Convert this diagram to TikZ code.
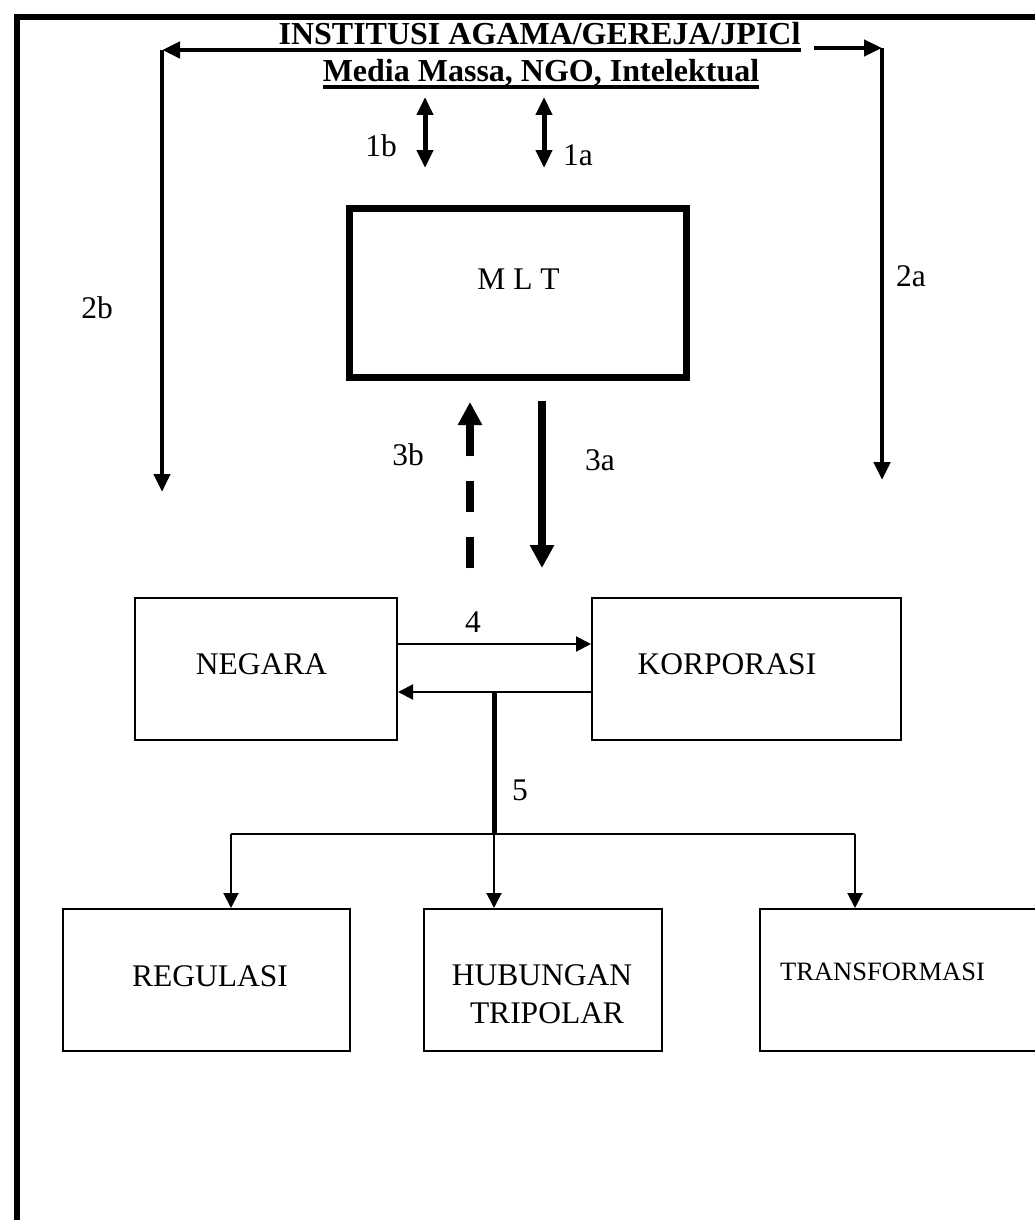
\documentclass[tikz,border=0pt]{standalone}
\usepackage{fontspec}
\setmainfont{Liberation Serif}
\usetikzlibrary{arrows.meta}
\begin{document}
\begin{tikzpicture}[x=1pt,y=-1pt,
  txt/.style={inner sep=0pt, anchor=base, font=\fontsize{31.5}{38}\selectfont},
  ttl/.style={inner sep=0pt, anchor=base, font=\fontsize{32}{38}\selectfont\bfseries},
  box/.style={draw, line width=2pt, inner sep=0pt},
  thinarrow/.style={line width=2pt, -{Triangle[length=15pt,width=15pt]}},
  thickarrow/.style={line width=4.5pt, -{Triangle[length=18pt,width=16pt]}},
  dblarrow/.style={line width=5pt, {Triangle[length=18pt,width=16pt]}-{Triangle[length=18pt,width=16pt]}},
  bigarrow/.style={line width=7.5pt, -{Triangle[length=23pt,width=23pt]}}
]
\useasboundingbox (0,0) rectangle (1034,1220);
% outer frame
\draw[line width=6pt] (17,1230) -- (17,17) -- (1040,17);

% title
\node[ttl] (t1) at (539.5,45) {INSTITUSI AGAMA/GEREJA/JPICl};
\node[ttl] (t2) at (541,82) {Media Massa, NGO, Intelektual};
\draw[line width=3.5pt] ([yshift=-5pt]t1.base west) -- ([yshift=-5pt]t1.base east);
\draw[line width=3.5pt] ([yshift=-5pt]t2.base west) -- ([yshift=-5pt]t2.base east);

% side connectors
\coordinate (lt) at (162,50);
\coordinate (lb) at (162,492);
\coordinate (rt) at (882,48);
\coordinate (rb) at (882,480);
\draw[thickarrow] ([yshift=-5pt]t1.base west) -- (lt);
\draw[thickarrow] ([xshift=13pt,yshift=-3pt]t1.base east) -- (rt);
\draw[thickarrow] (lt) -- (lb);
\draw[thickarrow] (rt) -- (rb);

% boxes
\node[box, line width=7pt, minimum width=337pt, minimum height=169pt] (mlt) at (518,293) {};
\node[box, minimum width=262pt, minimum height=142pt] (neg) at (266,669) {};
\node[box, minimum width=309pt, minimum height=142pt] (kor) at (746.5,669) {};
\node[box, minimum width=287pt, minimum height=142pt] (reg) at (206.5,980) {};
\node[box, minimum width=238pt, minimum height=142pt] (hub) at (543,980) {};
\node[box, minimum width=290pt, minimum height=142pt] (tra) at (905,980) {};

% box texts
\node[txt] (mltt) at (518.5,289) {M L T};
\node[txt] (negt) at (261.5,674) {NEGARA};
\node[txt] (kort) at (727,674) {KORPORASI};
\node[txt] (regt) at (210,986) {REGULASI};
\node[txt] (hubt1) at (542,985) {HUBUNGAN};
\node[txt] (hubt2) at (547,1023) {TRIPOLAR};
\node[txt, font=\fontsize{26.5}{32}\selectfont] (trat) at (882.5,980) {TRANSFORMASI};

% labels
\node[txt] (l1b) at (381,157) {1b};
\node[txt] (l1a) at (578,165) {1a};
\node[txt] (l2b) at (97,318) {2b};
\node[txt] (l2a) at (911,286) {2a};
\node[txt] (l3b) at (408,465) {3b};
\node[txt] (l3a) at (600,470) {3a};
\node[txt] (l4) at (473,632) {4};
\node[txt] (l5) at (520,800) {5};

% 1a / 1b
\coordinate (b1t) at (425,97);
\coordinate (b1b) at (425,168);
\coordinate (a1t) at (544,97);
\coordinate (a1b) at (544,168);
\draw[dblarrow] (b1t) -- (b1b);
\draw[dblarrow] (a1t) -- (a1b);

% 3a / 3b
\coordinate (b3s) at (470,568);
\coordinate (b3e) at (470,402);
\coordinate (a3s) at (542,401);
\coordinate (a3e) at (542,568);
\draw[bigarrow, dash pattern=on 31pt off 25pt] (b3s) -- (b3e);
\draw[bigarrow] (a3s) -- (a3e);

% 4
\draw[thinarrow] ([yshift=25pt]neg.east) -- ([yshift=25pt]kor.west);
\draw[thinarrow] ([yshift=-23pt]kor.west) -- ([yshift=-23pt]neg.east);

% 5
\coordinate (j5) at (494,692);
\coordinate (sp) at (494,834);
\coordinate (s1) at (231,834);
\coordinate (s3) at (855,834);
\draw[line width=5pt] (j5) -- (sp);
\draw[line width=2pt] (s1) -- (s3);
\draw[thinarrow] (s1) -- (s1 |- reg.north);
\draw[thinarrow] (sp) -- (sp |- hub.north);
\draw[thinarrow] (s3) -- (s3 |- tra.north);
\end{tikzpicture}
\end{document}
